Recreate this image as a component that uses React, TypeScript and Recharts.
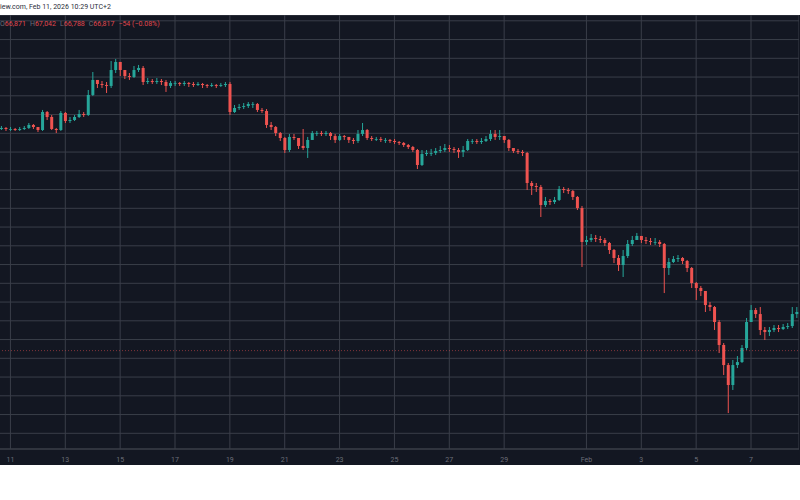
import React from 'react';
import { ComposedChart, Bar, XAxis, YAxis, CartesianGrid, ReferenceLine } from 'recharts';

// 4h candles, first one opens Jan 10 16:00 (6 per day)
const firstOpen = 90460;
const closes = [
  90570, 90460, 90460, 90350, 90460, 90570, 90890, 90670, 90350, 92270,
  91740, 90460, 90350, 92170, 91310, 91420, 91740, 92060, 91950, 94090,
  95690, 95260, 95150, 95050, 96750, 97610, 96750, 96110, 96010, 96750,
  96970, 95470, 95580, 95470, 95580, 95470, 95050, 95370, 95370, 95260,
  95370, 95260, 95150, 95260, 95150, 95050, 95150, 95050, 95150, 95260,
  92270, 92700, 92810, 92910, 93130, 93130, 92490, 92380, 90890, 90670,
  90030, 89500, 88220, 89610, 89500, 88650, 88430, 89290, 90030, 90030,
  89930, 90030, 89710, 89290, 89710, 89610, 89290, 89180, 89930, 90350,
  89500, 89390, 89390, 89290, 89290, 89180, 89070, 88970, 88750, 88540,
  88220, 86620, 87790, 87900, 87900, 88110, 88220, 88430, 88330, 88220,
  88010, 88220, 89180, 89180, 89070, 89180, 89390, 89930, 89610, 89710,
  89290, 88430, 88110, 88010, 87900, 84700, 84380, 84270, 82350, 82780,
  82670, 82890, 84060, 83950, 83840, 83210, 82030, 78410, 78620, 78830,
  78730, 78620, 78300, 77550, 76700, 75950, 76910, 78190, 78620, 79050,
  78620, 78510, 78410, 78410, 78190, 75630, 76270, 76590, 76700, 76380,
  75630, 74030, 73500, 73180, 71680, 71470, 69870, 67420, 65280, 63150,
  65280, 65600, 67100, 69870, 71150, 70720, 69020, 68800, 69020, 69230,
  69120, 69340, 69440, 70720, 70940,
];
const highs = [
  90780, 90670, 90670, 90570, 90670, 90780, 91100, 90990, 90670, 92490,
  92380, 91950, 90570, 92380, 92270, 91740, 91950, 92490, 92270, 94620,
  96540, 95690, 95580, 95470, 97710, 97930, 97610, 96750, 96430, 97180,
  97290, 97180, 95900, 95790, 95900, 95790, 95690, 95580, 95580, 95470,
  95580, 95470, 95470, 95470, 95370, 95260, 95370, 95260, 95370, 95470,
  95470, 93020, 93130, 93230, 93340, 93340, 93230, 92700, 92590, 91210,
  90780, 90140, 89610, 89930, 89930, 89500, 90460, 89610, 90250, 90250,
  90250, 90250, 90140, 89930, 89930, 89820, 89610, 89500, 90350, 91100,
  90460, 89710, 89610, 89610, 89500, 89390, 89390, 89180, 89070, 88860,
  88650, 88330, 88220, 88220, 88330, 88430, 88650, 88860, 88750, 88540,
  88430, 88650, 89390, 89390, 89390, 89500, 89710, 90350, 90350, 90350,
  89710, 89390, 88430, 88330, 88220, 88010, 84910, 84700, 84490, 83210,
  82990, 83210, 84380, 84270, 84170, 83950, 83310, 82250, 79050, 79260,
  79150, 79050, 78830, 78410, 77660, 77020, 77550, 78620, 79050, 79370,
  79050, 78940, 78830, 78830, 78620, 78300, 76700, 76910, 77020, 76800,
  76490, 75740, 74140, 73710, 73180, 72000, 71580, 70080, 67630, 65500,
  65820, 66240, 67420, 70300, 71680, 71370, 71470, 69340, 69340, 69550,
  69550, 69660, 69760, 71470, 71470,
];
const lows = [
  90350, 90250, 90250, 90250, 90250, 90350, 90460, 90460, 90140, 90250,
  91420, 90350, 90030, 90250, 91100, 91100, 91310, 91630, 91740, 91850,
  93980, 94830, 94830, 94300, 94830, 96430, 96110, 95790, 95690, 95900,
  96540, 95150, 95260, 95260, 95260, 95150, 94410, 94830, 95050, 95050,
  95050, 94940, 94940, 95050, 94830, 94830, 94940, 94830, 94940, 94940,
  91950, 92170, 92490, 92590, 92700, 92700, 92270, 92170, 90570, 90350,
  89710, 89180, 87900, 88010, 89290, 88330, 88220, 87370, 89290, 89710,
  89710, 89710, 89290, 88970, 89180, 89290, 88970, 88860, 88970, 89710,
  89290, 89180, 89180, 89070, 88970, 88970, 88860, 88750, 88540, 88330,
  88010, 86190, 86510, 87580, 87580, 87690, 87900, 88010, 88010, 87900,
  87370, 87470, 88110, 88860, 88860, 88860, 89070, 89180, 89290, 89290,
  88970, 88110, 87900, 87790, 87580, 83950, 83420, 83740, 81070, 82140,
  82350, 82460, 82780, 83630, 83530, 82890, 81820, 75740, 78090, 78410,
  78410, 78300, 77980, 77130, 76160, 75310, 74670, 76700, 77980, 78620,
  78300, 78190, 78090, 78090, 77870, 72960, 74890, 76160, 76270, 76060,
  75200, 73500, 72220, 72640, 70940, 71040, 69020, 66560, 64220, 60160,
  62620, 64960, 65500, 66880, 69870, 70300, 68480, 67950, 68380, 68800,
  68800, 69020, 69120, 69230, 70300,
];

// x-axis labels and their day offsets from Jan 11
const dayLabels = ['11', '13', '15', '17', '19', '21', '23', '25', '27', '29', 'Feb', '3', '5', '7'];
const dayOffsets = [0, 2, 4, 6, 8, 10, 12, 14, 16, 18, 21, 23, 25, 27];
const priceTicks = [
  58000, 60000, 62000, 64000, 66000, 68000, 70000, 72000, 74000, 76000, 78000, 80000,
  82000, 84000, 86000, 88000, 90000, 92000, 94000, 96000, 98000, 100000, 102000,
];
const lastPrice = 66817;
const legend = [
  { k: 'O', v: '66,871' }, { k: 'H', v: '67,042' }, { k: 'L', v: '66,788' }, { k: 'C', v: '66,817' },
];

const UP = '#26a69a';
const DOWN = '#ef5350';
const BG = '#131722';
const GRID = '#3a3e49';
const FONT = 'Roboto, "Noto Sans", sans-serif';

const data = closes.map((c, i) => ({
  i,
  open: i ? closes[i - 1] : firstOpen,
  close: c,
  high: highs[i],
  low: lows[i],
}));
const tickIdx = dayOffsets.map((d) => 2 + d * 6);
const labelOf: Record<number, string> = {};
tickIdx.forEach((t, k) => { labelOf[t] = dayLabels[k]; });

const Candle = (props: any) => {
  const { x, y, width, height, payload } = props;
  if (!payload) return null;
  const { open, close, high, low } = payload;
  const color = close >= open ? UP : DOWN;
  const k = high > low ? height / (high - low) : 0;
  const top = y + (high - Math.max(open, close)) * k;
  const bot = y + (high - Math.min(open, close)) * k;
  const cx = x + width / 2;
  return (
    <g>
      <line x1={cx} x2={cx} y1={y} y2={y + height} stroke={color} strokeWidth={1} />
      <rect x={x} y={top} width={width} height={Math.max(bot - top, 0.8)} fill={color} />
    </g>
  );
};

export default function App() {
  return (
    <div style={{ position: 'absolute', left: 0, top: 0, width: 800, height: 500, background: '#fff', overflow: 'hidden', fontFamily: FONT }}>
      <div style={{ position: 'absolute', left: 0, top: 3, fontSize: 7, color: '#2a2e39', whiteSpace: 'nowrap' }}>
        iew.com, Feb 11, 2026 10:29 UTC+2
      </div>
      <div style={{ position: 'absolute', left: 0, top: 15, width: 800, height: 450, background: BG, overflow: 'hidden' }}>
        <div style={{ position: 'absolute', left: -1.4, top: 0 }}>
          <ComposedChart width={800} height={450} data={data} margin={{ top: 0, right: 0, bottom: 0, left: 0 }}
            barCategoryGap="20%" barGap={0}>
            <CartesianGrid stroke={GRID} strokeWidth={1} />
            <XAxis dataKey="i" type="category" ticks={tickIdx} interval={0} height={16}
              tickFormatter={(v) => labelOf[v] ?? ''} tickLine={false} axisLine={{ stroke: GRID }}
              tick={{ fontSize: 7, fill: '#6b6e78', fontFamily: FONT }} />
            <YAxis hide domain={[56325, 102619]} ticks={priceTicks} interval={0} allowDataOverflow />
            <ReferenceLine y={lastPrice} stroke={DOWN} strokeOpacity={0.5} strokeDasharray="1 2" />
            <Bar dataKey={(d: any) => [d.low, d.high]} shape={<Candle />} isAnimationActive={false} />
          </ComposedChart>
        </div>
        <div style={{ position: 'absolute', left: 0, top: 5, fontSize: 7, whiteSpace: 'nowrap', color: '#e0474e' }}>
          {legend.map((l) => (
            <span key={l.k} style={{ marginRight: 4 }}>
              <span style={{ color: '#6b6e78' }}>{l.k}</span>{l.v}
            </span>
          ))}
          <span>−54 (−0.08%)</span>
        </div>
      </div>
    </div>
  );
}
